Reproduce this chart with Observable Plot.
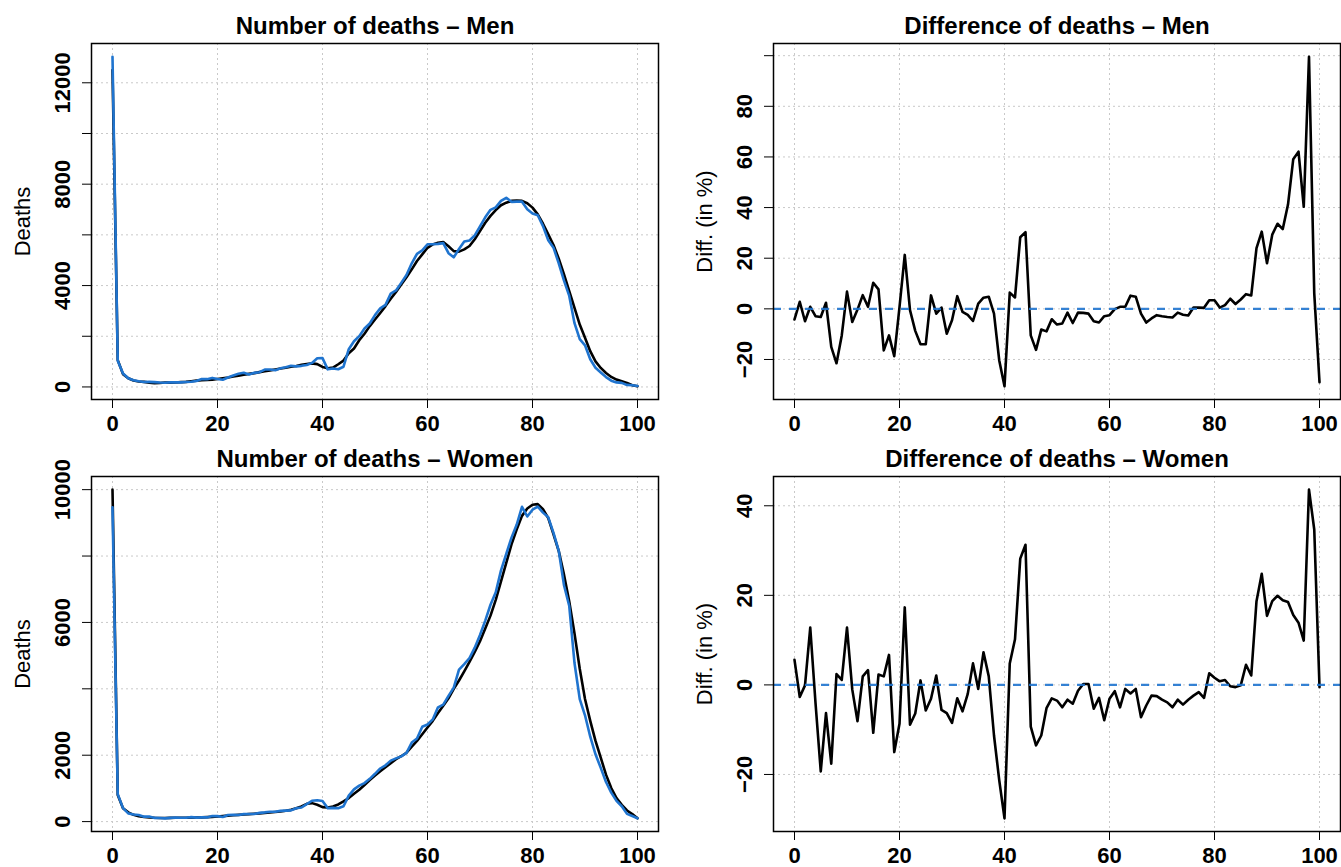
<!DOCTYPE html>
<html><head><meta charset="utf-8">
<script src="https://cdn.jsdelivr.net/npm/d3@7"></script>
<script src="https://cdn.jsdelivr.net/npm/@observablehq/plot@0.6"></script>
<style>
body{margin:0;background:#fff;}
#fig{position:relative;width:1341px;height:867px;overflow:hidden;background:#fff;}
#fig > svg{position:absolute;}
</style></head><body><div id="fig"></div>
<script>
// ---- data ----
const ages = d3.range(0, 101);

const menObserved = [13030,1031,531,342,264,224,195,200,191,173,
164,179,179,180,198,204,232,313,308,357,
314,283,372,449,517,558,489,556,582,687,
686,657,734,779,835,813,833,864,948,1131,
1138,695,731,698,798,1489,1805,2004,2305,2503,
2836,3100,3239,3686,3807,4106,4414,4879,5254,5386,
5631,5631,5645,5675,5276,5115,5443,5740,5780,5979,
6334,6694,6988,7086,7339,7464,7303,7313,7311,7012,
6843,6776,6345,5788,5496,4880,4197,3590,2516,1885,
1644,1091,756,570,390,248,179,160,80,66,35];

const menSmoothed = [12500,1060,505,345,256,217,200,170,150,155,
175,170,178,190,200,225,250,262,276,290,
316,343,370,410,445,480,515,545,585,620,
655,690,725,760,795,830,870,905,930,900,
790,740,764,896,1040,1333,1520,1840,2100,2400,
2660,2920,3190,3480,3750,4040,4330,4640,4970,5230,
5490,5625,5690,5720,5550,5360,5340,5430,5560,5830,
6150,6480,6750,6980,7170,7270,7340,7350,7340,7250,
7075,6810,6440,6020,5600,5060,4440,3780,3120,2460,
1940,1410,1010,750,550,395,290,225,160,70,25];

const womenObserved = [9470,822,405,248,214,198,149,152,112,109,
98,113,124,114,114,134,121,126,127,167,
166,141,198,205,200,226,231,230,263,277,
298,296,323,332,338,404,424,526,628,643,
620,406,413,402,462,781,971,1082,1160,1289,
1440,1600,1696,1837,1905,1966,2071,2381,2503,2856,
2926,3078,3442,3522,3787,4036,4580,4743,4928,5241,
5621,6056,6532,6908,7568,8061,8555,8948,9485,9191,
9395,9489,9308,9167,8698,8158,7120,6494,4777,3690,
3202,2557,2027,1619,1194,874,623,460,233,167,100];

const womenSmoothed = [10000,800,405,280,205,160,140,125,115,110,
110,112,114,116,118,120,124,128,135,142,
152,165,180,192,202,213,224,235,248,260,
273,287,304,325,354,400,455,536,557,506,
435,425,455,516,607,708,840,960,1100,1250,
1390,1520,1640,1760,1880,1970,2075,2255,2430,2630,
2835,3035,3270,3490,3715,4000,4250,4525,4810,5110,
5435,5820,6205,6680,7235,7795,8350,8805,9210,9430,
9545,9565,9410,9140,8655,8150,7440,6630,5670,4605,
3695,3035,2430,1925,1415,1010,710,505,335,225,100];

const menDiff = [-4.2,2.8,-4.9,0.8,-2.9,-3.2,2.4,-15,-21.5,-10.5,
6.8,-5.2,-0.3,5.4,0.8,10.3,7.7,-16.4,-10.5,-18.7,
0.7,21.3,-0.5,-8.7,-14,-14,5.3,-1.9,0.5,-9.8,
-4.5,5,-1.2,-2.4,-4.8,2.1,4.4,4.8,-1.9,-20.4,
-30.6,6.4,4.5,28.3,30.3,-10.5,-16.2,-8.2,-8.9,-4.1,
-6.2,-5.8,-1.5,-5.6,-1.5,-1.6,-1.9,-4.9,-5.4,-2.9,
-2.5,-0.1,0.8,0.8,5.2,4.8,-1.9,-5.4,-3.8,-2.5,
-2.9,-3.2,-3.4,-1.5,-2.3,-2.6,0.5,0.5,0.4,3.4,
3.4,0.5,1.5,4.0,1.9,3.7,5.8,5.3,24,30.5,
18,29.3,33.6,31.5,41.2,59.1,62.1,40.3,99.6,6.1,-29];

const womenDiff = [5.6,-2.7,-0.1,12.8,-4,-19.3,-6.3,-17.6,2.4,1.1,
12.8,-1,-8.1,1.9,3.3,-10.7,2.3,1.9,6.7,-15,
-8.7,17.3,-8.9,-6.4,1.0,-5.7,-3.1,2.1,-5.6,-6.3,
-8.5,-3.0,-5.9,-2.0,4.8,-0.9,7.3,1.9,-11.3,-21.3,
-29.8,4.8,10.2,28.2,31.3,-9.3,-13.5,-11.3,-5.2,-3.0,
-3.5,-5.0,-3.3,-4.2,-1.3,0.2,0.2,-5.3,-2.9,-7.9,
-3.1,-1.4,-5.0,-0.9,-1.9,-0.9,-7.2,-4.6,-2.4,-2.5,
-3.3,-3.9,-5.0,-3.3,-4.4,-3.3,-2.4,-1.6,-2.9,2.6,
1.6,0.8,1.1,-0.3,-0.5,-0.1,4.5,2.1,18.7,24.8,
15.4,18.7,19.9,18.9,18.5,15.6,13.9,9.9,43.6,34.7,-0.5];

const xTicks = [0, 20, 40, 60, 80, 100];
const menDeathTicks = [0, 2000, 4000, 6000, 8000, 10000, 12000];
const menDeathLabels = [0, 4000, 8000, 12000];
const womenDeathTicks = [0, 2000, 4000, 6000, 8000, 10000];
const womenDeathLabels = [0, 2000, 6000, 10000];
const menDiffTicks = [-20, 0, 20, 40, 60, 80, 100];
const menDiffLabels = [-20, 0, 20, 40, 60, 80];
const womenDiffTicks = [-20, 0, 20, 40];
const womenDiffLabels = [-20, 0, 20, 40];

const titles = ["Number of deaths \u2013 Men", "Difference of deaths \u2013 Men",
                "Number of deaths \u2013 Women", "Difference of deaths \u2013 Women"];

// ---- drawing ----
const FONT = '"Liberation Sans", Arial, Helvetica, sans-serif';
const BLUE = "#1f74cf";
const GRID = "#c9c9c9";

function padded(vals) {
  const [lo, hi] = d3.extent(vals);
  const p = (hi - lo) * 0.04;
  return [lo - p, hi + p];
}

const table = (ys) => ages.map((a, i) => ({age: a, v: ys[i]}));

function panel(o) {
  const marks = [
    Plot.ruleX(xTicks, {stroke: GRID, strokeDasharray: "2,3", strokeWidth: 1}),
    Plot.ruleY(o.yTicks, {stroke: GRID, strokeDasharray: "2,3", strokeWidth: 1})
  ];
  for (const s of o.series) {
    marks.push(Plot.line(table(s.values), {x: "age", y: "v", stroke: s.color, strokeWidth: 2.6, strokeLinejoin: "round"}));
  }
  if (o.zero) {
    marks.push(Plot.ruleY([0], {stroke: BLUE, strokeWidth: 2.2, strokeDasharray: "8,8", strokeOpacity: 0.9}));
  }
  marks.push(
    Plot.frame({stroke: "black", strokeWidth: 1.5}),
    Plot.axisX(xTicks, {anchor: "bottom", tickSize: 9, tickPadding: 7, fontSize: 22, fontWeight: "bold", label: null, tickFormat: d => String(d)}),
    Plot.axisY(o.yTicks, {anchor: "left", tickSize: 9, tickFormat: () => "", label: null}),
    Plot.text(o.yLabels, {y: d => d, text: d => String(d).replace("-", "\u2212"), frameAnchor: "left", dx: -29, rotate: -90,
      fontSize: 22, fontWeight: "bold", textAnchor: "middle", lineAnchor: "middle"}),
    Plot.text([o.ylabel], {text: d => d, frameAnchor: "left", dx: -69, rotate: -90, fontSize: 22, textAnchor: "middle", lineAnchor: "middle"}),
    Plot.text([o.title], {text: d => d, frameAnchor: "top", dy: -10, lineAnchor: "bottom", fontSize: 24, fontWeight: "bold"})
  );
  const svg = Plot.plot({
    width: o.width, height: o.height,
    marginLeft: o.mL, marginRight: o.mR, marginTop: o.mT, marginBottom: o.mB,
    x: {domain: padded([0, 100]), axis: null},
    y: {domain: padded(o.series.flatMap(s => s.values)), axis: null},
    style: {fontFamily: FONT, background: "transparent", overflow: "visible", color: "black"},
    marks
  });
  svg.style.left = o.left + "px";
  svg.style.top = o.top + "px";
  document.getElementById("fig").appendChild(svg);
}

panel({left: 0, top: 0, width: 670, height: 433, mL: 91, mR: 12, mT: 43, mB: 34,
  title: titles[0], ylabel: "Deaths", yTicks: menDeathTicks, yLabels: menDeathLabels,
  series: [{values: menSmoothed, color: "black"}, {values: menObserved, color: BLUE}]});

panel({left: 670, top: 0, width: 671, height: 433, mL: 103, mR: 1, mT: 43, mB: 34,
  title: titles[1], ylabel: "Diff. (in %)", yTicks: menDiffTicks, yLabels: menDiffLabels,
  series: [{values: menDiff, color: "black"}], zero: true});

panel({left: 0, top: 433, width: 670, height: 434, mL: 91, mR: 12, mT: 43, mB: 36,
  title: titles[2], ylabel: "Deaths", yTicks: womenDeathTicks, yLabels: womenDeathLabels,
  series: [{values: womenSmoothed, color: "black"}, {values: womenObserved, color: BLUE}]});

panel({left: 670, top: 433, width: 671, height: 434, mL: 103, mR: 1, mT: 43, mB: 36,
  title: titles[3], ylabel: "Diff. (in %)", yTicks: womenDiffTicks, yLabels: womenDiffLabels,
  series: [{values: womenDiff, color: "black"}], zero: true});
</script>
</body></html>
